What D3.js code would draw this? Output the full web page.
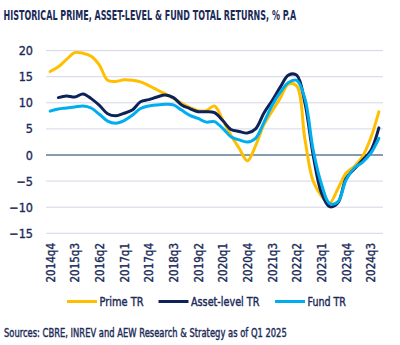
<!DOCTYPE html>
<html>
<head>
<meta charset="utf-8">
<script src="https://cdn.jsdelivr.net/npm/d3@7"></script>
<style>
  html, body { margin: 0; padding: 0; background: #fff; }
  svg { display: block; }
  text { font-family: "Liberation Sans Narrow", "DejaVu Sans Condensed", "Arial Narrow", sans-serif; fill: #1b2a58; }
</style>
</head>
<body>
<svg id="chart" width="400" height="345"></svg>
<script>
const quarters = ["2014q4","2015q1","2015q2","2015q3","2015q4","2016q1","2016q2","2016q3","2016q4",
  "2017q1","2017q2","2017q3","2017q4","2018q1","2018q2","2018q3","2018q4","2019q1","2019q2","2019q3",
  "2019q4","2020q1","2020q2","2020q3","2020q4","2021q1","2021q2","2021q3","2021q4","2022q1","2022q2",
  "2022q3","2022q4","2023q1","2023q2","2023q3","2023q4","2024q1","2024q2","2024q3","2024q4"];

const primeTR = [16.0, 16.9, 18.3, 19.6, 19.5, 18.9, 17.2, 14.3, 14.1, 14.4,
  14.3, 14.0, 13.3, 12.5, 11.7, 10.9, 9.9, 9.1, 8.5, 8.5,
  9.4, 6.7, 3.8, 1.3, -1.1, 1.8, 5.8, 8.4, 10.9, 13.6,
  13.2, 3.0, -5.0, -7.8, -9.2, -6.5, -3.5, -2.2, -0.3, 3.2, 8.3];

const assetTR = [null, 11.0, 11.3, 11.1, 11.7, 10.8, 9.5, 7.9, 7.5, 8.0,
  8.6, 10.2, 10.6, 11.1, 11.5, 11.0, 9.6, 8.9, 8.3, 8.3,
  8.1, 6.6, 4.9, 4.5, 4.2, 5.0, 8.0, 10.4, 13.0, 15.3,
  15.3, 10.0, 0.0, -7.2, -9.9, -9.2, -4.5, -2.7, -1.0, 0.8, 5.2];

const fundTR = [8.4, 8.8, 9.0, 9.2, 9.4, 9.0, 7.8, 6.5, 6.1, 6.6,
  7.6, 8.9, 9.4, 9.6, 9.7, 9.6, 8.6, 7.6, 7.0, 6.3,
  6.4, 5.1, 3.5, 2.9, 2.5, 3.2, 6.2, 9.5, 12.0, 13.9,
  14.3, 10.8, 1.0, -5.5, -9.3, -9.0, -4.8, -2.5, -1.4, 0.3, 3.2];

const yTicks = [-15, -10, -5, 0, 5, 10, 15, 20];
const xTickLabels = ["2014q4","2015q3","2016q2","2017q1","2017q4","2018q3","2019q2","2020q1",
  "2020q4","2021q3","2022q2","2023q1","2023q4","2024q3"];

const seriesNames = ["Prime TR", "Asset-level TR", "Fund TR"];
const seriesValues = [primeTR, assetTR, fundTR];
const colors = ["#ffbf00", "#0d2357", "#00aeef"];

const svg = d3.select("#chart");

const x = d3.scalePoint().domain(quarters).range([46, 383]).padding(0.5);
const y = d3.scaleLinear().domain([-15, 20]).range([233.3, 50.6]);

// helper: fit a text horizontally to a target width via transform scale
function fitText(sel, tx, ty, targetW) {
  const w = sel.node().getComputedTextLength();
  const sx = w > 0 ? targetW / w : 1;
  sel.attr("x", 0).attr("y", 0)
     .attr("transform", `translate(${tx},${ty}) scale(${sx},1)`);
}

// Title
const title = svg.append("text")
  .attr("font-size", 13.5).attr("font-weight", "bold")
  .text("HISTORICAL PRIME, ASSET-LEVEL & FUND TOTAL RETURNS, % P.A");
fitText(title, 3.5, 20, 293);

// Gridlines
const grid = svg.append("g");
grid.selectAll("line").data(yTicks).join("line")
  .attr("x1", 46).attr("x2", 383)
  .attr("y1", d => y(d)).attr("y2", d => y(d))
  .attr("stroke", d => d === 0 ? "#5d7b96" : "#d3d6e8")
  .attr("stroke-width", d => d === 0 ? 1.3 : 1);

// Y axis labels
const yAxis = d3.axisLeft(y).tickValues(yTicks).tickSize(0).tickPadding(0);
const yg = svg.append("g").attr("transform", "translate(33,0)").call(yAxis);
yg.select(".domain").remove();
yg.selectAll("text")
  .attr("font-size", 12.5).attr("font-family", null).attr("fill", "#1b2a58")
  .attr("stroke", "#1b2a58").attr("stroke-width", 0.35);

// X axis labels
const xAxis = d3.axisBottom(x).tickValues(xTickLabels).tickSize(0).tickPadding(0);
const xg = svg.append("g").call(xAxis);
xg.select(".domain").remove();
xg.selectAll(".tick").attr("transform", d => `translate(${x(d) + 4.5},243)`);
xg.selectAll("text")
  .attr("transform", "rotate(-90)")
  .attr("x", 0).attr("y", 0).attr("dy", 0)
  .attr("text-anchor", "end")
  .attr("font-size", 11.5)
  .attr("stroke", "#1b2a58").attr("stroke-width", 0.35)
  .attr("font-family", null).attr("fill", "#1b2a58");

// Lines
const line = d3.line()
  .defined(d => d.v !== null)
  .x(d => x(d.q))
  .y(d => y(d.v))
  .curve(d3.curveCatmullRom.alpha(0.5));

seriesValues.forEach((vals, k) => {
  const data = quarters.map((q, i) => ({q, v: vals[i]}));
  svg.append("path")
    .datum(data)
    .attr("fill", "none")
    .attr("stroke", colors[k])
    .attr("stroke-width", 3)
    .attr("stroke-linejoin", "round")
    .attr("stroke-linecap", "round")
    .attr("d", line);
});

// Legend
const legendX = [67, 158.5, 275];
const legendTextW = [44, 68.5, 38.5];
const lg = svg.append("g");
seriesNames.forEach((name, k) => {
  lg.append("line")
    .attr("x1", legendX[k]).attr("x2", legendX[k] + 30)
    .attr("y1", 301.5).attr("y2", 301.5)
    .attr("stroke", colors[k]).attr("stroke-width", 3);
  const t = lg.append("text")
    .attr("font-size", 13)
    .attr("stroke", "#1b2a58").attr("stroke-width", 0.4)
    .text(name);
  fitText(t, legendX[k] + 32.5, 306, legendTextW[k]);
});

// Source
const src = svg.append("text")
  .attr("font-size", 12.5)
  .attr("stroke", "#1b2a58").attr("stroke-width", 0.4)
  .text("Sources: CBRE, INREV and AEW Research & Strategy as of Q1 2025");
fitText(src, 4, 336.5, 283);
</script>
</body>
</html>
